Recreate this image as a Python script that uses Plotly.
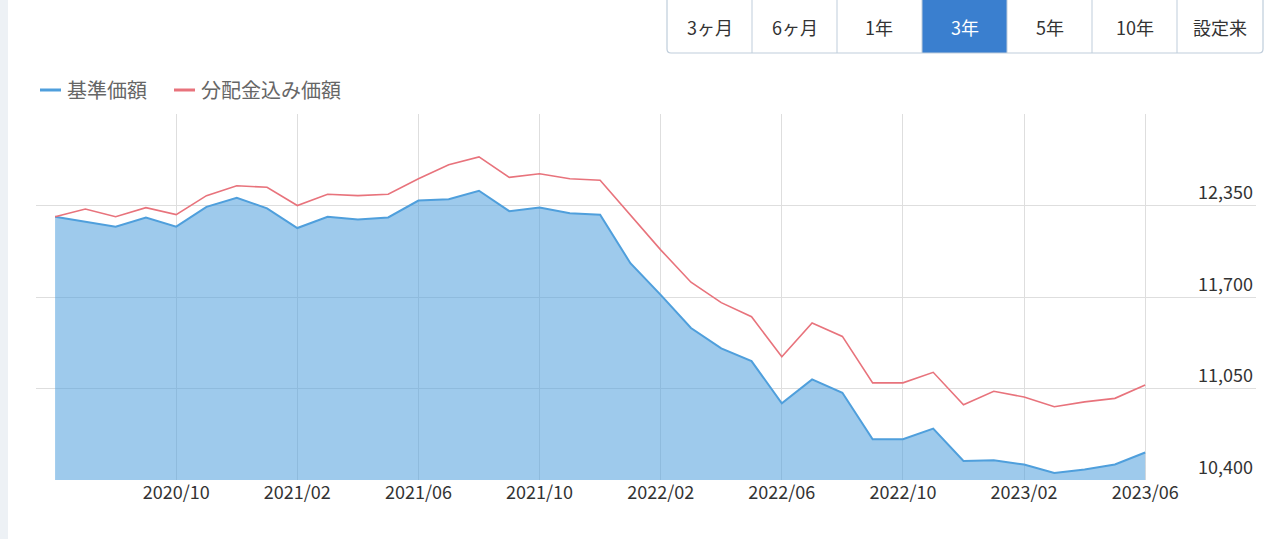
import plotly.graph_objects as go

# ---------------- data ----------------
months = ["2020/06", "2020/07", "2020/08", "2020/09", "2020/10", "2020/11", "2020/12",
          "2021/01", "2021/02", "2021/03", "2021/04", "2021/05", "2021/06", "2021/07",
          "2021/08", "2021/09", "2021/10", "2021/11", "2021/12", "2022/01", "2022/02",
          "2022/03", "2022/04", "2022/05", "2022/06", "2022/07", "2022/08", "2022/09",
          "2022/10", "2022/11", "2022/12", "2023/01", "2023/02", "2023/03", "2023/04",
          "2023/05", "2023/06"]
nav = [12270, 12235, 12200, 12265, 12200, 12340, 12405, 12330, 12190, 12270, 12250,
       12265, 12385, 12395, 12455, 12310, 12335, 12295, 12285, 11940, 11715, 11480,
       11335, 11245, 10945, 11115, 11020, 10690, 10690, 10765, 10535, 10540, 10510,
       10450, 10475, 10510, 10595]
nav_with_div = [12270, 12325, 12270, 12335, 12285, 12420, 12490, 12480, 12350, 12430,
                12420, 12430, 12540, 12640, 12695, 12550, 12575, 12540, 12530, 12285,
                12035, 11805, 11660, 11560, 11275, 11515, 11420, 11090, 11090, 11165,
                10935, 11030, 10990, 10920, 10955, 10980, 11075]
x_tick_labels = ["2020/10", "2021/02", "2021/06", "2021/10", "2022/02", "2022/06",
                 "2022/10", "2023/02", "2023/06"]
y_tick_values = [10400, 11050, 11700, 12350, 13000]
y_tick_labels = ["10,400", "11,050", "11,700", "12,350", ""]
series_names = ["基準価額", "分配金込み価額"]
period_buttons = ["3ヶ月", "6ヶ月", "1年", "3年", "5年", "10年", "設定来"]
active_button = "3年"

# ---------------- style ----------------
W, H = 1279, 539
PL, PR, PT, PB = 36, 1256, 114, 480
FONT = "Noto Sans CJK JP"
BLUE_LINE = "#4f9fdc"
BLUE_FILL = "rgba(79,159,220,0.55)"
RED_LINE = "#e8737c"
GRID = "#dedede"
BTN_BORDER = "#bfcddb"


def px(x):
    return (x - PL) / (PR - PL)


def py(y):
    return (PB - y) / (PB - PT)


fig = go.Figure()
fig.add_trace(go.Scatter(x=months, y=nav, mode="lines", name=series_names[0],
                         line=dict(color=BLUE_LINE, width=2), fill="tozeroy",
                         fillcolor=BLUE_FILL, showlegend=False, hoverinfo="skip"))
fig.add_trace(go.Scatter(x=months, y=nav_with_div, mode="lines", name=series_names[1],
                         line=dict(color=RED_LINE, width=1.6), showlegend=False,
                         hoverinfo="skip"))

shapes = []
annotations = []

# left gray strip
shapes.append(dict(type="rect", xref="paper", yref="paper", x0=px(0), x1=px(8),
                   y0=py(539), y1=py(0), fillcolor="#edf1f5", line=dict(width=0),
                   layer="below"))

# legend
legend_items = [(40, 61, 65, BLUE_LINE, series_names[0]),
                (174, 195, 199, RED_LINE, series_names[1])]
for x0, x1, tx, col, name in legend_items:
    shapes.append(dict(type="line", xref="paper", yref="paper", x0=px(x0), x1=px(x1),
                       y0=py(90), y1=py(90), line=dict(color=col, width=3)))
    annotations.append(dict(xref="paper", yref="paper", x=px(tx), y=py(90), text=name,
                            showarrow=False, xanchor="left", yanchor="middle",
                            font=dict(family=FONT, size=20, color="#666666")))

# period buttons
edges = [667, 752, 837, 922, 1007, 1092, 1177, 1263]
btn_top, btn_bot = -2, 53
for i, label in enumerate(period_buttons):
    a, b = edges[i], edges[i + 1]
    is_active = label == active_button
    if is_active:
        shapes.append(dict(type="rect", xref="paper", yref="paper", x0=px(a), x1=px(b),
                           y0=py(btn_bot), y1=py(btn_top), fillcolor="#3a7fcf",
                           line=dict(width=0)))
    if 0 < i:
        shapes.append(dict(type="line", xref="paper", yref="paper", x0=px(a), x1=px(a),
                           y0=py(btn_bot), y1=py(btn_top),
                           line=dict(color=BTN_BORDER, width=1)))
    annotations.append(dict(xref="paper", yref="paper", x=px((a + b) / 2), y=py(27),
                            text=label, showarrow=False, xanchor="center",
                            yanchor="middle",
                            font=dict(family=FONT, size=18,
                                      color="white" if is_active else "#333333")))

# outer border of the button group with rounded bottom corners
r = 4
L, R, T, B = edges[0], edges[-1], btn_top, btn_bot
path = (f"M {px(L)},{py(T)} L {px(L)},{py(B - r)} "
        f"Q {px(L)},{py(B)} {px(L + r)},{py(B)} "
        f"L {px(R - r)},{py(B)} Q {px(R)},{py(B)} {px(R)},{py(B - r)} "
        f"L {px(R)},{py(T)}")
shapes.append(dict(type="path", xref="paper", yref="paper", path=path,
                   line=dict(color=BTN_BORDER, width=1.2)))

fig.update_layout(
    width=W, height=H, autosize=False,
    margin=dict(l=PL, r=W - PR, t=PT, b=H - PB, pad=0),
    paper_bgcolor="white", plot_bgcolor="white",
    font=dict(family=FONT, size=18, color="#333333"),
    shapes=shapes, annotations=annotations,
    showlegend=False,
    xaxis=dict(type="category", range=[-0.63, 39.66], tickmode="array",
               tickvals=x_tick_labels, ticktext=x_tick_labels, showgrid=True,
               gridcolor=GRID, gridwidth=1, zeroline=False, showline=False,
               ticks="", tickfont=dict(family=FONT, size=18, color="#333333"),
               fixedrange=True),
    yaxis=dict(range=[10400, 13000], side="right", tickmode="array",
               tickvals=y_tick_values, ticktext=y_tick_labels,
               ticklabelposition="inside top", showgrid=True, gridcolor=GRID,
               gridwidth=1, zeroline=False, showline=False, ticks="",
               tickfont=dict(family=FONT, size=18, color="#333333"), fixedrange=True),
)

fig.write_html("out.html")
